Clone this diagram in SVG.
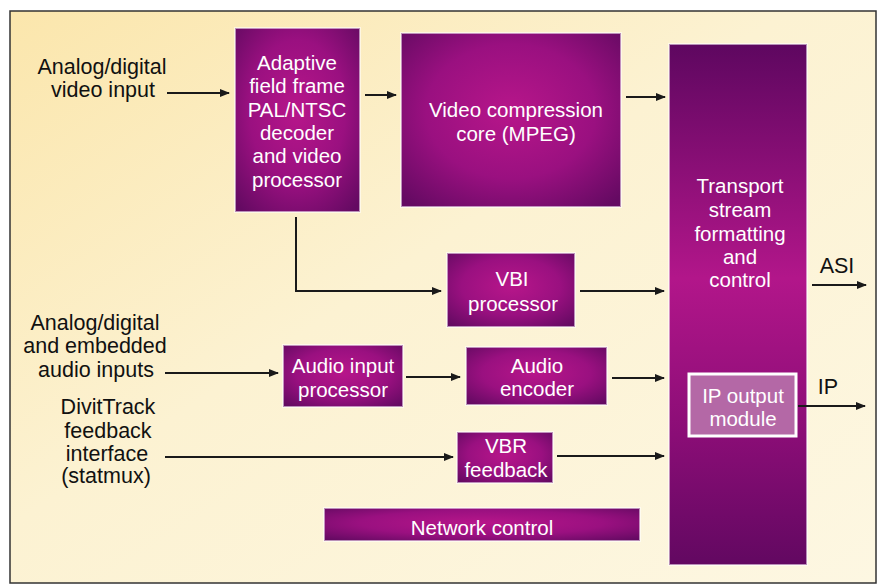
<svg xmlns="http://www.w3.org/2000/svg" width="879" height="585" viewBox="0 0 879 585">
<defs>
<linearGradient id="bg" x1="0" y1="0" x2="1" y2="1">
<stop offset="0" stop-color="#fbe6ac"/>
<stop offset="0.45" stop-color="#fcf2d2"/>
<stop offset="1" stop-color="#fdf7e2"/>
</linearGradient>
<radialGradient id="pg" cx="0.5" cy="0.45" r="0.7">
<stop offset="0" stop-color="#b7168a"/>
<stop offset="0.55" stop-color="#9a1080"/>
<stop offset="1" stop-color="#640a62"/>
</radialGradient>
<linearGradient id="tg" x1="0" y1="0" x2="0" y2="1">
<stop offset="0" stop-color="#5e0760"/>
<stop offset="0.45" stop-color="#b2168a"/>
<stop offset="0.75" stop-color="#8a0d76"/>
<stop offset="1" stop-color="#620861"/>
</linearGradient>
<marker id="ah" markerWidth="10" markerHeight="8" refX="9" refY="4" orient="auto" markerUnits="userSpaceOnUse">
<path d="M0,0 L10,4 L0,8 Z" fill="#1a1a1a"/>
</marker>
</defs>
<style>
.box{fill:url(#pg);stroke:#fff;stroke-opacity:0.55;stroke-width:2}
.wt{font-family:"Liberation Sans",Arial,sans-serif;font-size:20.5px;fill:#fff;text-anchor:middle}
.bt{font-family:"Liberation Sans",Arial,sans-serif;font-size:21.5px;fill:#111;text-anchor:middle}
.ln{stroke:#1a1a1a;stroke-width:2;fill:none}
.ar{stroke:#1a1a1a;stroke-width:2;fill:none;marker-end:url(#ah)}
</style>
<rect x="0" y="0" width="879" height="585" fill="#ffffff"/>
<rect x="10" y="11" width="866" height="572" fill="url(#bg)" stroke="#333" stroke-width="1.5"/>

<g id="labels">
<text class="bt" x="102" y="74">Analog/digital</text>
<text class="bt" x="103" y="97">video input</text>
<text class="bt" x="95" y="330">Analog/digital</text>
<text class="bt" x="95" y="353">and embedded</text>
<text class="bt" x="96" y="377">audio inputs</text>
<text class="bt" x="108" y="414">DivitTrack</text>
<text class="bt" x="108" y="438">feedback</text>
<text class="bt" x="107" y="461">interface</text>
<text class="bt" x="106" y="483">(statmux)</text>
<text class="bt" x="837" y="273">ASI</text>
<text class="bt" x="828" y="394">IP</text>
</g>

<g id="decoder">
<rect class="box" x="235" y="28" width="125" height="184"/>
<text class="wt" x="297" y="70">Adaptive</text>
<text class="wt" x="297" y="93">field frame</text>
<text class="wt" x="297" y="117">PAL/NTSC</text>
<text class="wt" x="297" y="140">decoder</text>
<text class="wt" x="297" y="163">and video</text>
<text class="wt" x="297" y="187">processor</text>
</g>

<g id="video-compression">
<rect class="box" x="401" y="33" width="220" height="174"/>
<text class="wt" x="516" y="117">Video compression</text>
<text class="wt" x="516" y="141">core (MPEG)</text>
</g>

<g id="transport">
<rect x="669" y="44" width="138" height="521" fill="url(#tg)" stroke="#fff" stroke-opacity="0.55" stroke-width="2"/>
<text class="wt" x="740" y="193">Transport</text>
<text class="wt" x="740" y="217">stream</text>
<text class="wt" x="740" y="241">formatting</text>
<text class="wt" x="740" y="264">and</text>
<text class="wt" x="740" y="287">control</text>
</g>

<g id="ip-output">
<rect x="689" y="374" width="107" height="62" fill="#b468a6" stroke="#ffffff" stroke-width="3"/>
<text class="wt" x="743" y="403">IP output</text>
<text class="wt" x="743" y="426">module</text>
</g>

<g id="vbi">
<rect class="box" x="447" y="253" width="128" height="74"/>
<text class="wt" x="512" y="286">VBI</text>
<text class="wt" x="513" y="311">processor</text>
</g>

<g id="audio-input">
<rect class="box" x="283" y="345" width="120" height="62"/>
<text class="wt" x="343" y="373">Audio input</text>
<text class="wt" x="343" y="397">processor</text>
</g>

<g id="audio-encoder">
<rect class="box" x="466" y="347" width="141" height="58"/>
<text class="wt" x="537" y="373">Audio</text>
<text class="wt" x="537" y="396">encoder</text>
</g>

<g id="vbr">
<rect class="box" x="457" y="432" width="96" height="51"/>
<text class="wt" x="506" y="453">VBR</text>
<text class="wt" x="506" y="477">feedback</text>
</g>

<g id="network">
<rect class="box" x="324" y="508" width="316" height="33"/>
<text class="wt" x="482" y="535">Network control</text>
</g>

<g id="connectors">
<line class="ar" x1="167" y1="93" x2="229" y2="93"/>
<line class="ar" x1="365" y1="95" x2="396" y2="95"/>
<line class="ar" x1="626" y1="97" x2="665" y2="97"/>
<polyline class="ar" points="296,217 296,291 441,291"/>
<line class="ar" x1="580" y1="291" x2="664" y2="291"/>
<line class="ar" x1="812" y1="285" x2="866" y2="285"/>
<line class="ar" x1="165" y1="373" x2="278" y2="373"/>
<line class="ar" x1="406" y1="377" x2="460" y2="377"/>
<line class="ar" x1="612" y1="378" x2="664" y2="378"/>
<line class="ar" x1="165" y1="457" x2="453" y2="457"/>
<line class="ar" x1="557" y1="456" x2="664" y2="456"/>
<line class="ar" x1="798" y1="406" x2="865" y2="406"/>
</g>
</svg>
